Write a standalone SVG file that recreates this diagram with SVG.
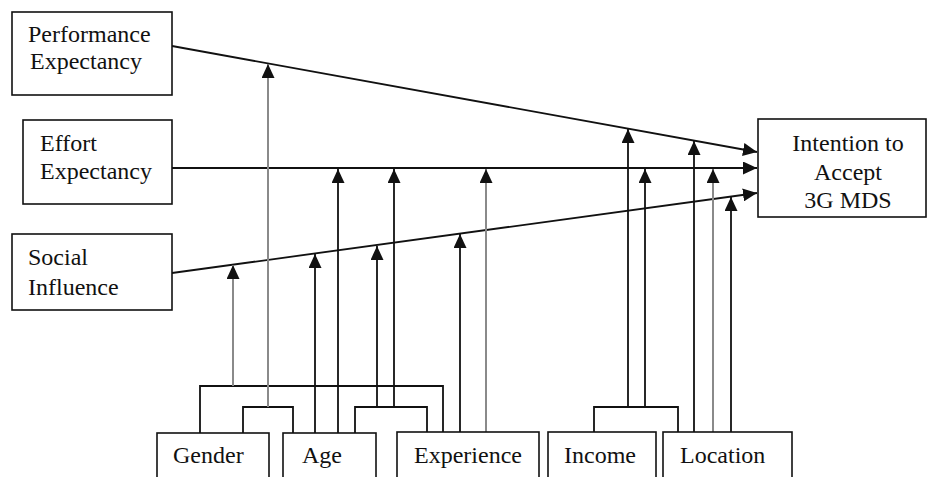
<svg xmlns="http://www.w3.org/2000/svg" width="928" height="477" viewBox="0 0 928 477">
<style>
.box{fill:#fff;stroke:#111;stroke-width:1.6}
.t{font-family:"Liberation Serif","Times New Roman",serif;font-size:24px;fill:#111}
.c{fill:none;stroke:#111;stroke-width:1.8}
.g{fill:none;stroke:#8a8a8a;stroke-width:2}
</style>
<defs>
<marker id="ah" markerUnits="userSpaceOnUse" markerWidth="15" markerHeight="13" refX="14" refY="6.5" orient="auto">
<path d="M0,0 L14,6.5 L0,13 z" fill="#111"/>
</marker>
</defs>
<rect width="928" height="477" fill="#fff"/>
<g id="connectors">
<line class="c" x1="172" y1="46" x2="757" y2="152" marker-end="url(#ah)"/>
<line class="c" x1="172" y1="168" x2="757" y2="168" marker-end="url(#ah)"/>
<line class="c" x1="172" y1="273" x2="757" y2="193" marker-end="url(#ah)"/>
<polyline class="c" points="200,433 200,386 443,386 443,432"/>
<polyline class="c" points="243,433 243,407 293,407 293,433"/>
<polyline class="c" points="355,433 355,407 427,407 427,432"/>
<polyline class="c" points="594,432 594,407 678,407 678,432"/>
<line class="g" x1="233" y1="386" x2="233" y2="265" marker-end="url(#ah)"/>
<line class="g" x1="268" y1="407" x2="268" y2="64" marker-end="url(#ah)"/>
<line class="c" x1="315" y1="433" x2="315" y2="254" marker-end="url(#ah)"/>
<line class="c" x1="338" y1="433" x2="338" y2="169" marker-end="url(#ah)"/>
<line class="c" x1="377" y1="407" x2="377" y2="246" marker-end="url(#ah)"/>
<line class="c" x1="394" y1="407" x2="394" y2="169" marker-end="url(#ah)"/>
<line class="c" x1="460" y1="432" x2="460" y2="234" marker-end="url(#ah)"/>
<line class="g" x1="486" y1="432" x2="486" y2="169" marker-end="url(#ah)"/>
<line class="c" x1="628" y1="407" x2="628" y2="129" marker-end="url(#ah)"/>
<line class="c" x1="645" y1="407" x2="645" y2="169" marker-end="url(#ah)"/>
<line class="c" x1="694" y1="432" x2="694" y2="141" marker-end="url(#ah)"/>
<line class="g" x1="713" y1="432" x2="713" y2="169" marker-end="url(#ah)"/>
<line class="c" x1="731" y1="432" x2="731" y2="197" marker-end="url(#ah)"/>
</g>
<g id="performance">
<rect class="box" x="12" y="12" width="160" height="83"/>
<text class="t" x="28" y="42">Performance</text>
<text class="t" x="30" y="69">Expectancy</text>
</g>
<g id="effort">
<rect class="box" x="23" y="120" width="149" height="84"/>
<text class="t" x="40" y="151">Effort</text>
<text class="t" x="40" y="179">Expectancy</text>
</g>
<g id="social">
<rect class="box" x="12" y="234" width="160" height="76"/>
<text class="t" x="28" y="265">Social</text>
<text class="t" x="28" y="295">Influence</text>
</g>
<g id="intention">
<rect class="box" x="758" y="119" width="168" height="98"/>
<text class="t" x="848" y="151" text-anchor="middle">Intention to</text>
<text class="t" x="848" y="180" text-anchor="middle">Accept</text>
<text class="t" x="848" y="208" text-anchor="middle">3G MDS</text>
</g>
<g id="gender">
<rect class="box" x="157" y="433" width="112" height="60"/>
<text class="t" x="173" y="463">Gender</text>
</g>
<g id="age">
<rect class="box" x="283" y="433" width="93" height="60"/>
<text class="t" x="302" y="463">Age</text>
</g>
<g id="experience">
<rect class="box" x="397" y="432" width="142" height="60"/>
<text class="t" x="414" y="463">Experience</text>
</g>
<g id="income">
<rect class="box" x="548" y="432" width="108" height="60"/>
<text class="t" x="564" y="463">Income</text>
</g>
<g id="location">
<rect class="box" x="663" y="432" width="129" height="60"/>
<text class="t" x="680" y="463">Location</text>
</g>
</svg>
